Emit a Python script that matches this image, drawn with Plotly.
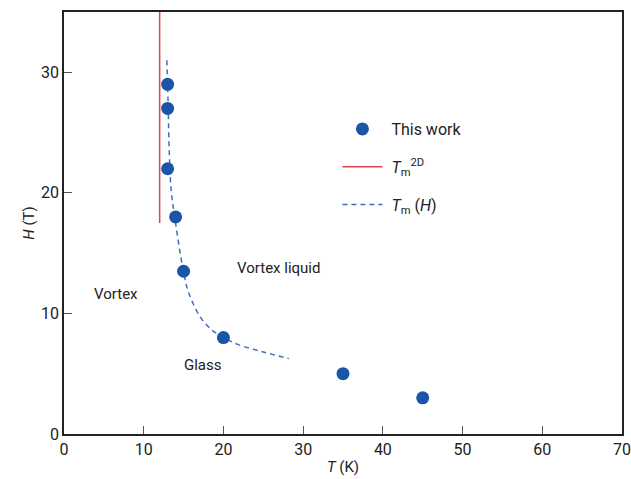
import plotly.graph_objects as go

# Data
work_T = [13, 13, 13, 14, 15, 20, 35, 45]
work_H = [29, 27, 22, 18, 13.5, 8, 5, 3]

tm2d_T = [12, 12]
tm2d_H = [35, 17.5]

tmh_T = [12.9, 13.05, 13.2, 13.45, 13.95, 14.95, 15.6, 17.1, 18.6, 20.2, 21.7, 25.0, 28.2]
tmh_H = [31.0, 27.7, 23.5, 20.2, 17.7, 13.6, 11.8, 9.7, 8.6, 7.95, 7.45, 6.8, 6.25]

region_labels = ["Vortex", "Vortex liquid", "Glass"]
region_T = [6.5, 26.9, 17.4]
region_H = [11.6, 13.75, 5.7]

FONT = "Roboto, Liberation Sans, sans-serif"
BLUE = "#1b56a6"
RED = "#e0444e"
DASH = "#3e6fbf"

fig = go.Figure()
fig.add_trace(go.Scatter(x=tm2d_T, y=tm2d_H, mode="lines", name="&nbsp;<i>T</i><sub>m</sub><sup>2D</sup>",
                         line=dict(color=RED, width=1.5), legendgroup="b", legendrank=2))
fig.add_trace(go.Scatter(x=tmh_T, y=tmh_H, mode="lines", name="&nbsp;<i>T</i><sub>m</sub> (<i>H</i>)",
                         line=dict(color=DASH, width=1.5, dash="5px,4px", shape="spline"),
                         legendgroup="c", legendrank=3))
fig.add_trace(go.Scatter(x=work_T, y=work_H, mode="markers", name="&nbsp;This work",
                         marker=dict(color=BLUE, size=13), legendgroup="a", legendrank=1))

for t, x, y in zip(region_labels, region_T, region_H):
    fig.add_annotation(x=x, y=y, text=t, showarrow=False,
                       font=dict(family=FONT, size=15, color="#222"))

axis_common = dict(showgrid=False, zeroline=False, showline=True, linecolor="#222",
                   linewidth=1.5, mirror=True, ticks="inside", ticklen=8,
                   tickcolor="#555", tickwidth=1, automargin=False,
                   tickfont=dict(family=FONT, size=16, color="#222"))

fig.update_xaxes(range=[0, 70], dtick=10,
                 title=dict(text="<i>T</i> (K)", font=dict(family=FONT, size=15, color="#222"), standoff=4),
                 **axis_common)
fig.update_yaxes(range=[0, 35], tickvals=[0, 10, 20, 30],
                 title=dict(text="<i>H</i> (T)", font=dict(family=FONT, size=15, color="#222"), standoff=3),
                 **axis_common)

fig.update_layout(
    width=631, height=479,
    margin=dict(l=64, r=9, t=12, b=45),
    plot_bgcolor="white", paper_bgcolor="white",
    showlegend=True,
    legend=dict(x=0.49, y=0.763, xanchor="left", yanchor="top",
                font=dict(family=FONT, size=16, color="#222"),
                itemwidth=40, tracegroupgap=14, bgcolor="rgba(0,0,0,0)"),
)

fig.write_html("out.html")
